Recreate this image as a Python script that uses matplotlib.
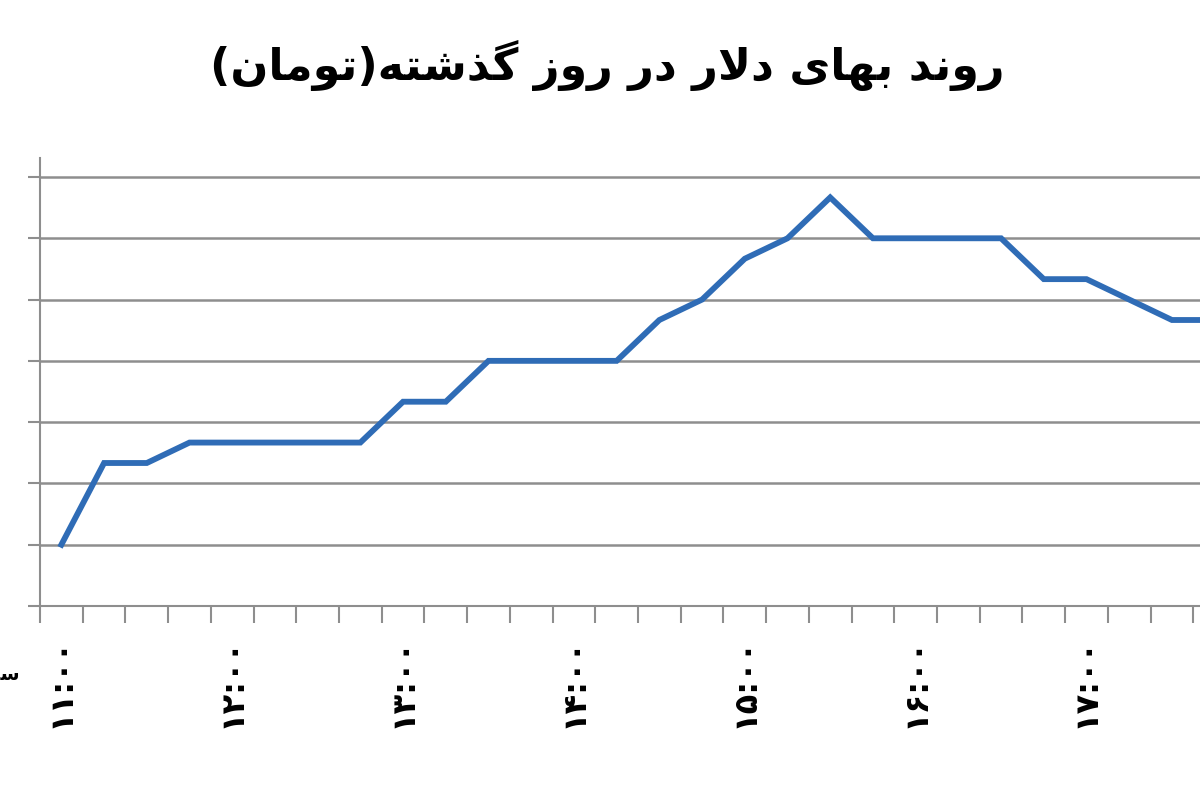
import matplotlib
matplotlib.use('Agg')
import matplotlib.pyplot as plt
import numpy as np

# Persian text in visual order with Arabic presentation forms (matplotlib has no shaping)
TITLE = ('(' + '\uFEE5\uFE8E\uFEE3\uFEEE\uFE97' + ')' + '\uFEEA\uFE98\uFEB7\uFEAC\uFB94'
         + ' ' + '\uFEAF\uFEED\uFEAD' + ' ' + '\uFEAD\uFEA9' + ' ' + '\uFEAD\uFEFB\uFEA9'
         + ' ' + '\uFEEF\uFE8E\uFEEC\uFE91' + ' ' + '\uFEAA\uFEE7\uFEED\uFEAD')
X_LABEL = '\uFE96\uFECB\uFE8E\uFEB3'

# one point every 15 minutes from 11:00
times = ['11:00', '11:15', '11:30', '11:45', '12:00', '12:15', '12:30', '12:45',
         '13:00', '13:15', '13:30', '13:45', '14:00', '14:15', '14:30', '14:45',
         '15:00', '15:15', '15:30', '15:45', '16:00', '16:15', '16:30', '16:45',
         '17:00', '17:15', '17:30', '17:45']
prices = [3030, 3070, 3070, 3080, 3080, 3080, 3080, 3080,
          3100, 3100, 3120, 3120, 3120, 3120, 3140, 3150,
          3170, 3180, 3200, 3180, 3180, 3180, 3180, 3160,
          3160, 3150, 3140, 3140]
y_ticks = [3000, 3030, 3060, 3090, 3120, 3150, 3180, 3210]

fa_digits = str.maketrans('0123456789', '\u06F0\u06F1\u06F2\u06F3\u06F4\u06F5\u06F6\u06F7\u06F8\u06F9')
hour_labels = [t.translate(fa_digits) for t in times]

fig = plt.figure(figsize=(12, 8), dpi=100)
# axes deliberately runs past the left/right edge like the cropped screenshot
ax = fig.add_axes([40 / 1200, 194 / 800, 1196 / 1200, 448 / 800])

x = np.arange(len(prices))
ax.plot(x, prices, color='#2f6cb6', lw=4.2, solid_joinstyle='miter', zorder=3)

ax.set_xlim(-0.5, len(prices) - 0.5)
ax.set_ylim(3000, 3000 + 30 * 7.31)

ax.set_yticks(y_ticks)
ax.set_yticklabels([str(v).translate(fa_digits) for v in y_ticks], fontsize=13, fontweight='bold')
ax.yaxis.grid(True, color='#8e8e8e', lw=1.8)
ax.tick_params(axis='y', length=9, width=1.5, color='#8e8e8e', pad=20)

# category boundaries get the tick marks, labels sit at every 4th category centre
ax.set_xticks(np.arange(-0.5, len(prices) + 0.5, 1))
ax.set_xticklabels([])
ax.tick_params(axis='x', which='major', length=12, width=1.5, color='#8e8e8e')
ax.set_xticks(x[::4], minor=True)
ax.set_xticklabels(hour_labels[::4], minor=True, rotation=90, fontsize=23,
                   fontweight='bold', family='DejaVu Sans')
ax.tick_params(axis='x', which='minor', length=0, pad=22)

for s in ['top', 'right']:
    ax.spines[s].set_visible(False)
for s in ['left', 'bottom']:
    ax.spines[s].set_color('#8e8e8e')
    ax.spines[s].set_linewidth(1.5)

fig.text(0.506, 0.918, TITLE, ha='center', va='center', fontsize=32, fontweight='bold')
fig.text(20 / 1200, 1 - 675 / 800, X_LABEL, ha='right', va='center', fontsize=14, fontweight='bold')

fig.savefig('out.png', dpi=100)
